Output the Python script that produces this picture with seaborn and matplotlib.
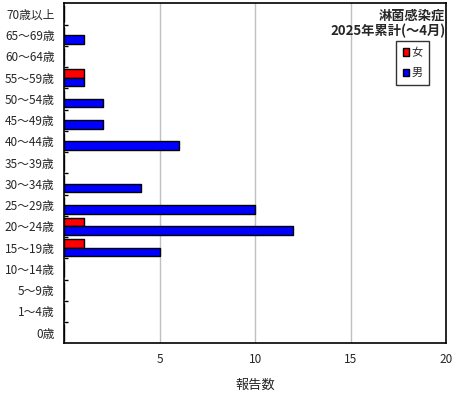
import matplotlib
matplotlib.use("Agg")
import matplotlib.pyplot as plt
import seaborn as sns
import pandas as pd
from matplotlib.ticker import FixedLocator

categories = ["70歳以上", "65～69歳", "60～64歳", "55～59歳", "50～54歳", "45～49歳",
              "40～44歳", "35～39歳", "30～34歳", "25～29歳", "20～24歳", "15～19歳",
              "10～14歳", "5～9歳", "1～4歳", "0歳"]
female = [0, 0, 0, 1, 0, 0, 0, 0, 0, 0, 1, 1, 0, 0, 0, 0]
male = [0, 1, 0, 1, 2, 2, 6, 0, 4, 10, 12, 5, 0, 0, 0, 0]
sexes = ["女", "男"]
x_ticks = [5, 10, 15, 20]
title_text = "淋菌感染症\n2025年累計(～4月)"
x_label = "報告数"

sns.set_theme(style="white")
plt.rcParams["font.family"] = ["Noto Sans CJK JP", "DejaVu Sans"]

rows = []
for c, f, m in zip(categories, female, male):
    rows.append({"age": c, "sex": "女", "count": f})
    rows.append({"age": c, "sex": "男", "count": m})
df = pd.DataFrame(rows)

fig = plt.figure(figsize=(4.6, 4.0), dpi=100)
ax = fig.add_axes([64.5 / 460, 1 - 343.3 / 400, (446 - 64.5) / 460, (343.3 - 3.3) / 400])

ax.set_axisbelow(True)
for xv in [5, 10, 15]:
    ax.axvline(xv, color="#c0c0c0", lw=1, zorder=0)

sns.barplot(data=df, y="age", x="count", hue="sex", order=categories,
            hue_order=sexes, palette={"女": "#ff0000", "男": "#0000ff"},
            orient="h", width=0.8, edgecolor="black", linewidth=1,
            saturation=1, errorbar=None, ax=ax, zorder=2)

ax.set_xlim(0, 20)
ax.set_ylim(len(categories) - 0.5, -0.5)
ax.set_xticks(x_ticks)
ax.set_xticklabels([str(v) for v in x_ticks], fontsize=8.5)
ax.tick_params(axis="x", length=0, pad=7)
ax.set_yticks(range(len(categories)))
ax.set_yticklabels(categories, fontsize=8.5)
ax.tick_params(axis="y", which="major", length=0, pad=7)
ax.yaxis.set_minor_locator(FixedLocator([i + 0.5 for i in range(len(categories) - 1)]))
ax.tick_params(axis="y", which="minor", direction="in", length=3, width=1, color="black", left=True)
ax.set_xlabel(x_label, fontsize=9.5, labelpad=9)
ax.set_ylabel("")

for s in ax.spines.values():
    s.set_visible(True)
    s.set_color("black")
    s.set_linewidth(1.2)

ax.text(0.998, 0.985, title_text, transform=ax.transAxes, ha="right", va="top",
        fontsize=9.5, fontweight="bold", linespacing=1.1)

leg = ax.legend(loc="upper right", bbox_to_anchor=(429.5 / 460, 1 - 41 / 400),
                bbox_transform=fig.transFigure, borderaxespad=0, fontsize=8, frameon=True,
                handlelength=0.6, handleheight=0.6, handletextpad=0.2,
                borderpad=0.6, labelspacing=0.9, fancybox=False, title=None)
leg.get_frame().set_edgecolor("black")
leg.get_frame().set_linewidth(1)

fig.savefig("out.png", dpi=100)
